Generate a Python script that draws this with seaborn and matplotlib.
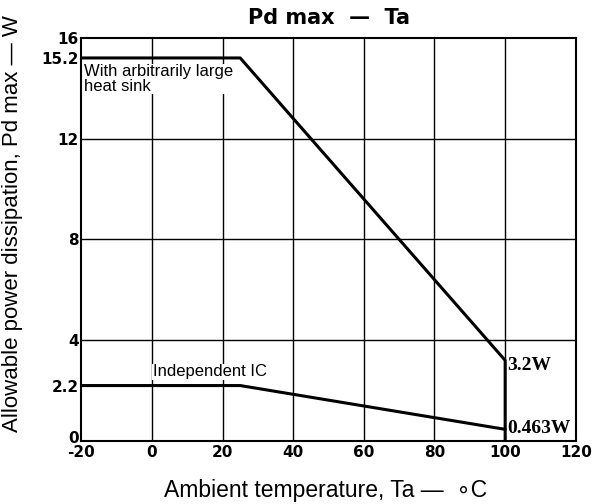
import matplotlib
matplotlib.use("Agg")
import matplotlib.pyplot as plt
import matplotlib.transforms as mtransforms
import seaborn as sns
import pandas as pd

sns.set_style("white")
plt.rcParams['font.family'] = ['Liberation Sans', 'DejaVu Sans']
plt.rcParams['text.color'] = 'black'
plt.rcParams['axes.labelcolor'] = 'black'
plt.rcParams['xtick.color'] = 'black'
plt.rcParams['ytick.color'] = 'black'

heatsink_ta = [-20, 25, 100, 100]
heatsink_pd = [15.2, 15.2, 3.2, 0]
ic_ta = [-20, 25, 100]
ic_pd = [2.2, 2.2, 0.463]
xticks = [-20, 0, 20, 40, 60, 80, 100, 120]
yticks = [0, 2.2, 4, 8, 12, 15.2, 16]
ytick_labels = ["0", "2.2", "4", "8", "12", "15.2", "16"]
xgrid = [0, 20, 40, 60, 80, 100]
ygrid = [4, 8, 12]

df1 = pd.DataFrame({"Ta": heatsink_ta, "Pd": heatsink_pd})
df2 = pd.DataFrame({"Ta": ic_ta, "Pd": ic_pd})

fig = plt.figure(figsize=(5.93, 5.04), dpi=100)
ax = fig.add_axes([0.137, 0.125, 0.834, 0.8])

for g in xgrid:
    ax.axvline(g, color="black", lw=1.0, zorder=1)
for g in ygrid:
    ax.axhline(g, color="black", lw=1.0, zorder=1)

sns.lineplot(data=df1, x="Ta", y="Pd", sort=False, estimator=None, color="black", lw=2.2, ax=ax, zorder=3)
sns.lineplot(data=df2, x="Ta", y="Pd", sort=False, estimator=None, color="black", lw=2.2, ax=ax, zorder=3)

ax.set_xlim(-20, 120)
ax.set_ylim(0, 16)
ax.set_xticks(xticks)
ax.set_xticklabels([str(t) for t in xticks], fontweight="bold", fontsize=11, family="DejaVu Sans")
ax.set_yticks(yticks)
ax.set_yticklabels(ytick_labels, fontweight="bold", fontsize=11, family="DejaVu Sans")
ax.tick_params(axis="x", length=0, pad=3)
ax.tick_params(axis="y", length=0, pad=2)
for s in ax.spines.values():
    s.set_color("black")
    s.set_linewidth(1.5)

# nudge the "0" y tick label up slightly so it does not collide with "-20"
zero_lbl = ax.get_yticklabels()[0]
zero_lbl.set_transform(zero_lbl.get_transform() + mtransforms.ScaledTranslation(0, 3 / 72, fig.dpi_scale_trans))

ax.set_xlabel("Ambient temperature, Ta \u2014  \u2218C", fontsize=16.5)
ax.xaxis.set_label_coords(0.495, -0.095)
ax.set_ylabel("Allowable power dissipation, Pd max \u2014 W", fontsize=16)
ax.yaxis.set_label_coords(-0.117, 0.54)
ax.set_title("Pd max  \u2014  Ta", fontsize=15, fontweight="bold", pad=10, family="DejaVu Sans")

ax.text(-19.3, 14.95, "With arbitrarily large\nheat sink", fontsize=12, va="top", ha="left",
        linespacing=0.95, bbox=dict(facecolor="white", edgecolor="none", pad=0.5), zorder=4)
ax.text(0.3, 2.45, "Independent IC", fontsize=12, va="bottom", ha="left",
        bbox=dict(facecolor="white", edgecolor="none", pad=0.5), zorder=4)
ax.text(100.6, 3.0, "3.2W", fontsize=14, fontweight="bold", family="Liberation Serif", va="center", ha="left")
ax.text(100.6, 0.5, "0.463W", fontsize=14, fontweight="bold", family="Liberation Serif", va="center", ha="left")

fig.savefig("out.png", dpi=100)
